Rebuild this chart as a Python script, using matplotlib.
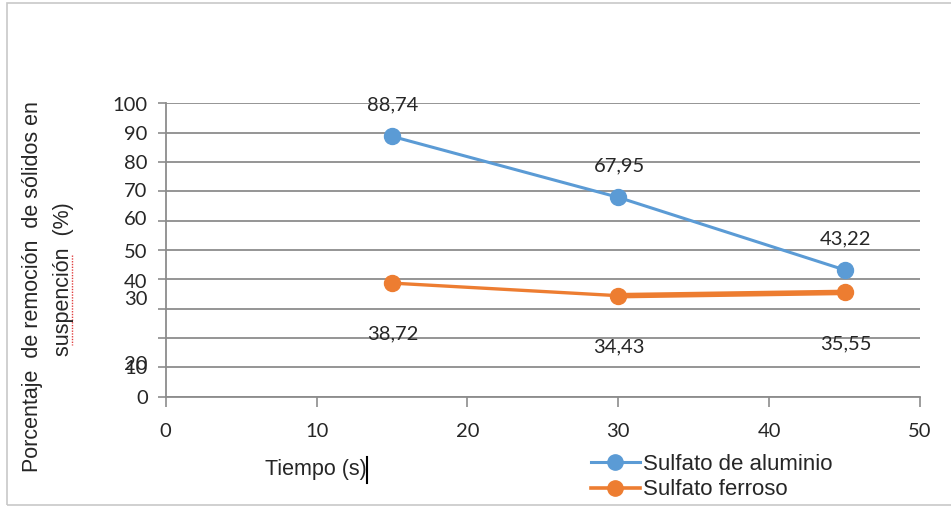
import matplotlib
matplotlib.use("Agg")
import matplotlib.pyplot as plt
from matplotlib.patches import Rectangle
from matplotlib.lines import Line2D

# data
tiempo = [15, 30, 45]
aluminio = [88.74, 67.95, 43.22]
ferroso = [38.72, 34.43, 35.55]
etiquetas_alu = ["88,74", "67,95", "43,22"]
etiquetas_fer = ["38,72", "34,43", "35,55"]

# y tick labels as they appear (shifted in the original image)
ytick_text = ["0", "10", "20", "30", "40", "50", "60", "70", "80", "90", "100"]
ytick_pos = [0, 10, 11.6, 33.8, 39.6, 49.5, 60.8, 70.4, 80, 90, 99.8]
xticks = [0, 10, 20, 30, 40, 50]

azul = "#5B9BD5"
naranja = "#ED7D31"
gris = "#8C8C8C"
texto = "#262626"

W, H = 951, 508
fig = plt.figure(figsize=(W / 100, H / 100), dpi=100)
ax = fig.add_axes([165.7 / W, 1 - 396.7 / H, (920 - 165.7) / W, (396.7 - 103.3) / H])

# outer chart border
fig.patches.append(Rectangle((7 / W, 3 / H), 1.0, 502 / H, transform=fig.transFigure,
                             fill=False, edgecolor="#C8C8C8", linewidth=1.2))

ax.plot(tiempo, aluminio, color=azul, lw=2.2, marker="o", ms=11.5, zorder=3)
ax.plot(tiempo, ferroso, color=naranja, lw=2.4, marker="o", ms=11.5, zorder=3)
# the last orange segment looks doubled in the original
ax.plot(tiempo[1:], ferroso[1:], color=naranja, lw=4, zorder=3)

for x, y, t in zip(tiempo, aluminio, etiquetas_alu):
    ax.annotate(t, (x, y), xytext=(1, 31), textcoords="offset pixels",
                ha="center", va="center", fontsize=14.5, family="Lato", color=texto)
for x, y, t in zip(tiempo, ferroso, etiquetas_fer):
    ax.annotate(t, (x, y), xytext=(1, -51), textcoords="offset pixels",
                ha="center", va="center", fontsize=14.5, family="Lato", color=texto)

ax.set_xlim(0, 50)
ax.set_ylim(0, 100)

# gridlines on the real scale, labels where the image shows them
ax.yaxis.remove_overlapping_locs = False
ax.set_yticks(range(0, 101, 10))
ax.set_yticklabels([])
ax.set_yticks(ytick_pos, ytick_text, minor=True)
ax.tick_params(axis="y", which="major", length=6, width=1.2, color=gris, direction="out")
ax.tick_params(axis="y", which="minor", length=0, pad=13, labelsize=14.5, labelcolor=texto)
for lab in ax.get_yticklabels(minor=True):
    lab.set_family("Lato")
ax.yaxis.grid(True, which="major", color=gris, lw=1.3)

ax.set_xticks(xticks)
ax.tick_params(axis="x", length=7, width=1.2, color=gris, pad=12, labelsize=14.5, labelcolor=texto)
for lab in ax.get_xticklabels():
    lab.set_family("Lato")

for s in ["top", "right"]:
    ax.spines[s].set_visible(False)
for s in ["left", "bottom"]:
    ax.spines[s].set_color(gris)
    ax.spines[s].set_linewidth(1.3)

fig.text(33 / W, 1 - 287 / H, "Porcentaje  de remoción  de sólidos en", rotation=90,
         ha="center", va="center", fontsize=15.5, family="Liberation Sans", color=texto)
fig.text(63 / W, 1 - 279 / H, "suspención  (%)", rotation=90,
         ha="center", va="center", fontsize=15.5, family="Liberation Sans", color=texto)
# spell-check squiggle
fig.add_artist(Line2D([72 / W, 72 / W], [1 - 255 / H, 1 - 345 / H], color="#E04040",
                      lw=1, ls=(0, (1, 1))))

fig.text(265 / W, 1 - 469 / H, "Tiempo (s)", ha="left", va="center", fontsize=15.5,
         family="Liberation Sans", color=texto)
# text cursor
fig.add_artist(Line2D([367 / W, 367 / W], [1 - 457 / H, 1 - 483 / H], color="black", lw=1.5))

handles = [Line2D([], [], color=azul, lw=2.2, marker="o", ms=11),
           Line2D([], [], color=naranja, lw=2.6, marker="o", ms=11)]
fig.legend(handles, ["Sulfato de aluminio", "Sulfato ferroso"], loc="center left",
           bbox_to_anchor=(591 / W, 1 - 477 / H), frameon=False, handlelength=2.2,
           handletextpad=0.12, labelspacing=0.22, borderpad=0, borderaxespad=0,
           prop={"family": "Liberation Sans", "size": 16}, labelcolor=texto)

fig.savefig("out.png", dpi=100)
